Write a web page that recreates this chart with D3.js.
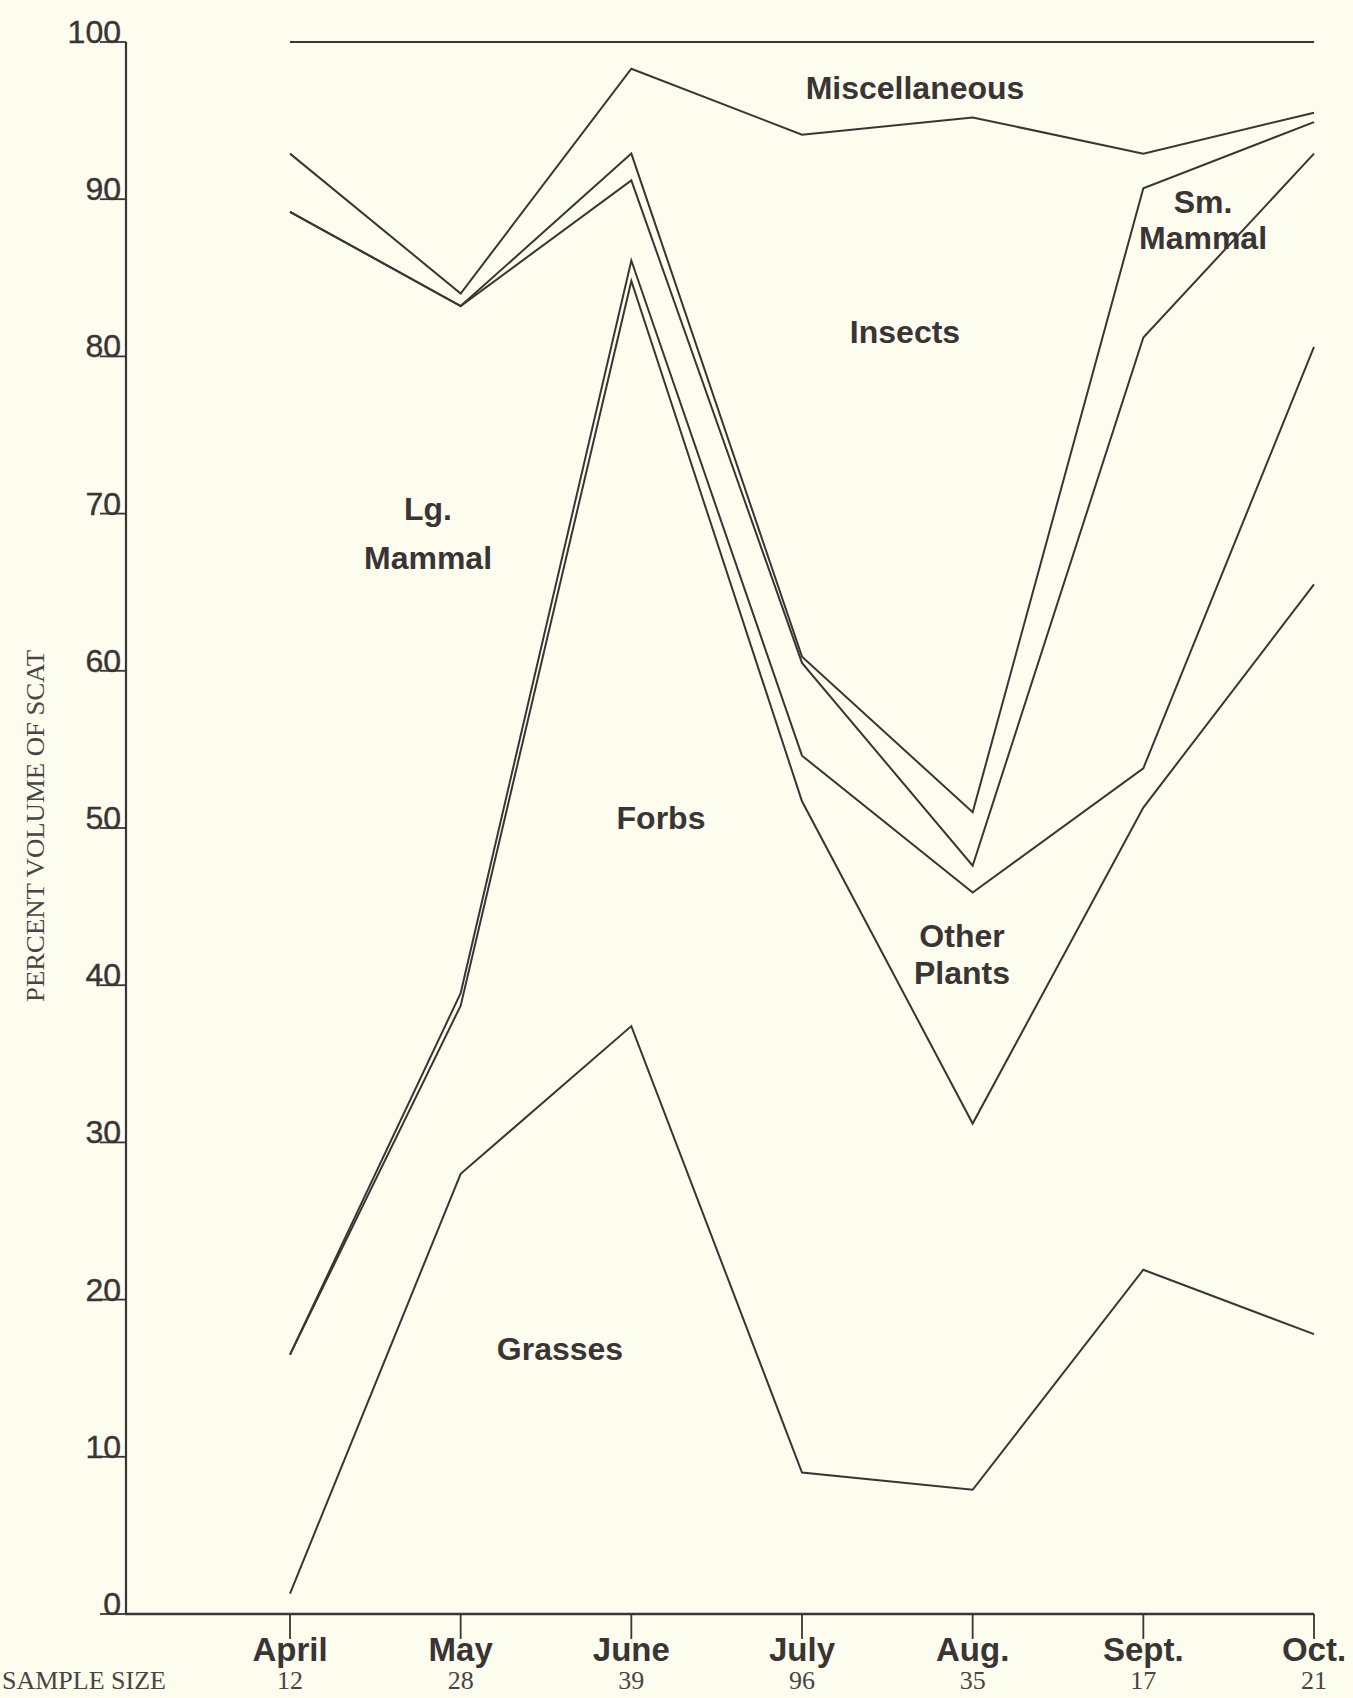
<!DOCTYPE html>
<html>
<head>
<meta charset="utf-8">
<script src="https://cdn.jsdelivr.net/npm/d3@7"></script>
<style>
  html, body { margin: 0; padding: 0; background: #fcfcef; }
  svg { display: block; }
</style>
</head>
<body>
<svg id="chart" width="1353" height="1698"></svg>
<script>
// Monthly composition of scat (percent volume), stacked from the bottom up.
const months = ["April", "May", "June", "July", "Aug.", "Sept.", "Oct."];
const sampleSizes = [12, 28, 39, 96, 35, 17, 21];
const categories = ["Grasses", "Forbs", "Other Plants", "Lg. Mammal", "Sm. Mammal", "Insects", "Miscellaneous"];

const grasses       = [1.3, 28.0, 37.4,  9.0,  7.9, 21.9, 17.8];
const forbs         = [15.2, 10.7, 47.4, 42.7, 23.3, 29.4, 47.7];
const otherPlants   = [0.0,  0.8,  1.3,  2.9, 14.7,  2.5, 15.1];
const lgMammal      = [72.7, 43.7, 5.1,  5.9,  1.7, 27.4, 12.3];
const smMammal      = [0.0,  0.0,  1.7,  0.4,  3.4,  9.5,  2.0];
const insects       = [3.7,  0.8,  5.4, 33.2, 44.2,  2.2,  0.6];
const miscellaneous = [7.1, 16.0,  1.7,  5.9,  4.8,  7.1,  4.5];

const yTickValues = [0, 10, 20, 30, 40, 50, 60, 70, 80, 90, 100];

const seriesByCategory = {
  "Grasses": grasses,
  "Forbs": forbs,
  "Other Plants": otherPlants,
  "Lg. Mammal": lgMammal,
  "Sm. Mammal": smMammal,
  "Insects": insects,
  "Miscellaneous": miscellaneous
};

// one row per month for d3.stack
const rows = months.map((m, i) => {
  const r = { month: m };
  categories.forEach(c => { r[c] = seriesByCategory[c][i]; });
  return r;
});

const ink = "#3b3434";
const svg = d3.select("#chart");

const x = d3.scalePoint().domain(months).range([290, 1314]);
const y = d3.scaleLinear().domain([0, 100]).range([1614, 42]);

const stacked = d3.stack().keys(categories)(rows);

// boundary lines: top edge of each stacked band
const line = d3.line()
  .x(d => x(d.data.month))
  .y(d => y(d[1]));

svg.append("g")
  .selectAll("path")
  .data(stacked)
  .join("path")
  .attr("d", line)
  .attr("fill", "none")
  .attr("stroke", ink)
  .attr("stroke-width", 2)
  .attr("stroke-linejoin", "miter");

// y axis
const yAxisX = 126;
svg.append("line")
  .attr("x1", yAxisX).attr("x2", yAxisX)
  .attr("y1", y(100)).attr("y2", y(0))
  .attr("stroke", ink).attr("stroke-width", 2.2);

const yt = svg.append("g").selectAll("g").data(yTickValues).join("g");
yt.append("line")
  .attr("x1", 100).attr("x2", yAxisX)
  .attr("y1", d => y(d)).attr("y2", d => y(d))
  .attr("stroke", ink).attr("stroke-width", 1.8);
yt.append("text")
  .attr("x", 121)
  .attr("y", d => y(d) + 1)
  .attr("text-anchor", "end")
  .attr("font-family", "'Liberation Sans', Arial, sans-serif")
  .attr("font-size", 32)
  .attr("fill", ink)
  .attr("stroke", ink)
  .attr("stroke-width", 0.4)
  .text(d => d);

// x axis
svg.append("line")
  .attr("x1", yAxisX - 1).attr("x2", x("Oct."))
  .attr("y1", y(0)).attr("y2", y(0))
  .attr("stroke", ink).attr("stroke-width", 2.4);

const xt = svg.append("g").selectAll("g").data(months).join("g");
xt.append("line")
  .attr("x1", d => x(d)).attr("x2", d => x(d))
  .attr("y1", y(0)).attr("y2", y(0) + 25)
  .attr("stroke", ink).attr("stroke-width", 1.8);
xt.append("text")
  .attr("x", d => x(d))
  .attr("y", 1661)
  .attr("text-anchor", "middle")
  .attr("font-family", "'Liberation Sans', Arial, sans-serif")
  .attr("font-weight", "bold")
  .attr("font-size", 33)
  .attr("fill", ink)
  .text(d => d);

// sample sizes
const typeFont = "'Liberation Serif', 'Times New Roman', serif";
svg.append("text")
  .attr("x", 2).attr("y", 1689)
  .attr("font-family", typeFont)
  .attr("font-size", 26)
  .attr("fill", "#4a4343")
  .attr("textLength", 164)
  .attr("lengthAdjust", "spacingAndGlyphs")
  .text("SAMPLE SIZE");

svg.append("g").selectAll("text").data(sampleSizes).join("text")
  .attr("x", (d, i) => x(months[i]))
  .attr("y", 1689)
  .attr("text-anchor", "middle")
  .attr("font-family", typeFont)
  .attr("font-size", 26)
  .attr("fill", "#4a4343")
  .text(d => d);

// axis title
svg.append("text")
  .attr("transform", "translate(44,826) rotate(-90)")
  .attr("text-anchor", "middle")
  .attr("font-family", typeFont)
  .attr("font-size", 26)
  .attr("fill", "#4a4343")
  .attr("textLength", 352)
  .attr("lengthAdjust", "spacingAndGlyphs")
  .text("PERCENT VOLUME OF SCAT");

// band labels
const bandLabels = [
  { lines: ["Miscellaneous"], x: 915, y: 99, gap: 37 },
  { lines: ["Sm.", "Mammal"], x: 1203, y: 213, gap: 36 },
  { lines: ["Insects"], x: 905, y: 343, gap: 37 },
  { lines: ["Lg.", "Mammal"], x: 428, y: 520, gap: 49 },
  { lines: ["Forbs"], x: 661, y: 829, gap: 37 },
  { lines: ["Other", "Plants"], x: 962, y: 947, gap: 37 },
  { lines: ["Grasses"], x: 560, y: 1360, gap: 37 }
];

const lbl = svg.append("g").selectAll("text").data(bandLabels).join("text")
  .attr("text-anchor", "middle")
  .attr("font-family", "'Liberation Sans', Arial, sans-serif")
  .attr("font-weight", "bold")
  .attr("font-size", 32)
  .attr("fill", ink);
lbl.selectAll("tspan").data(d => d.lines.map((t, k) => ({ t, k, x: d.x, y: d.y, gap: d.gap })))
  .join("tspan")
  .attr("x", d => d.x)
  .attr("y", d => d.y + d.k * d.gap)
  .text(d => d.t);
</script>
</body>
</html>
